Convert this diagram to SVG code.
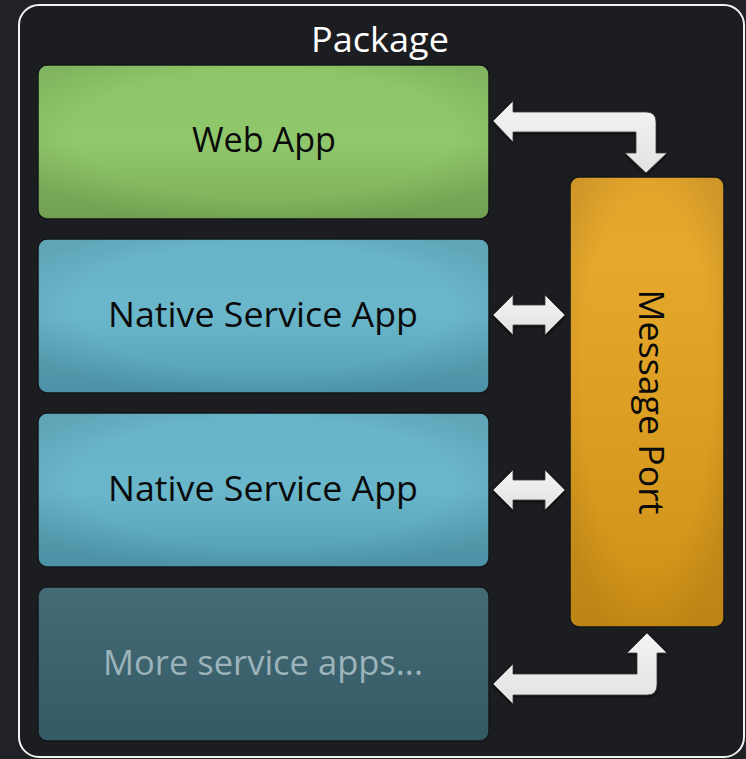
<svg xmlns="http://www.w3.org/2000/svg" width="746" height="759" viewBox="0 0 746 759">
<defs>
<linearGradient id="gGreen" x1="0" y1="0" x2="0" y2="1"><stop offset="0" stop-color="#8cc567"/><stop offset="0.5" stop-color="#90c76c"/><stop offset="1" stop-color="#7aad57"/></linearGradient>
<linearGradient id="gBlue" x1="0" y1="0" x2="0" y2="1"><stop offset="0" stop-color="#67b3c7"/><stop offset="0.5" stop-color="#6ab6ca"/><stop offset="1" stop-color="#519db2"/></linearGradient>
<linearGradient id="gTeal" x1="0" y1="0" x2="0" y2="1"><stop offset="0" stop-color="#456b77"/><stop offset="1" stop-color="#345a66"/></linearGradient>
<linearGradient id="gOrange" x1="0" y1="0" x2="0" y2="1"><stop offset="0" stop-color="#e2a42c"/><stop offset="0.2" stop-color="#e6a82c"/><stop offset="1" stop-color="#ce9016"/></linearGradient>
<radialGradient id="vig" cx="0.5" cy="0.45" r="0.6"><stop offset="0.7" stop-color="#000" stop-opacity="0"/><stop offset="1" stop-color="#000" stop-opacity="0.08"/></radialGradient>
<linearGradient id="gArrow" x1="0" y1="0" x2="0" y2="1"><stop offset="0" stop-color="#f4f4f4"/><stop offset="1" stop-color="#e2e2e2"/></linearGradient>
<filter id="sh" x="-10%" y="-20%" width="120%" height="140%"><feDropShadow dx="0" dy="1" stdDeviation="1.5" flood-color="#000" flood-opacity="0.9"/></filter>
</defs>
<style>
.box{stroke:#15161a;stroke-width:1.5}
.lbl{font-family:"Open Sans","Noto Sans","DejaVu Sans",sans-serif;font-size:34px;fill:#0a0a0a;text-anchor:middle}
.arrow{fill:url(#gArrow);stroke:#3a3a3a;stroke-width:0.8;filter:url(#sh)}
</style>
<rect width="746" height="759" fill="#212226"/>
<g id="package">
<rect x="19" y="5" width="725" height="752" rx="20" fill="#1c1d20" stroke="#f2f2f2" stroke-width="2"/>
<text x="380" y="52" class="lbl" style="fill:#ffffff" textLength="138" lengthAdjust="spacingAndGlyphs">Package</text>
</g>
<g id="webapp">
<rect class="box" x="38" y="65" width="451" height="154" rx="9" fill="url(#gGreen)"/>
<rect x="38" y="65" width="451" height="154" rx="9" fill="url(#vig)"/>
<text x="264" y="152" class="lbl" textLength="144" lengthAdjust="spacingAndGlyphs">Web App</text>
</g>
<g id="native1">
<rect class="box" x="38" y="239" width="451" height="154" rx="9" fill="url(#gBlue)"/>
<rect x="38" y="239" width="451" height="154" rx="9" fill="url(#vig)"/>
<text x="263" y="327" class="lbl" textLength="310" lengthAdjust="spacingAndGlyphs">Native Service App</text>
</g>
<g id="native2">
<rect class="box" x="38" y="413" width="451" height="154" rx="9" fill="url(#gBlue)"/>
<rect x="38" y="413" width="451" height="154" rx="9" fill="url(#vig)"/>
<text x="263" y="501" class="lbl" textLength="310" lengthAdjust="spacingAndGlyphs">Native Service App</text>
</g>
<g id="more">
<rect class="box" x="38" y="587" width="451" height="154" rx="9" fill="url(#gTeal)"/>
<text x="263" y="675" class="lbl" style="fill:#9cb3ba" textLength="320" lengthAdjust="spacingAndGlyphs">More service apps...</text>
</g>
<g id="messageport">
<rect class="box" x="570" y="177" width="154" height="450" rx="9" fill="url(#gOrange)"/>
<rect x="570" y="177" width="154" height="450" rx="9" fill="url(#vig)"/>
<text x="402" y="-639" class="lbl" transform="rotate(90)" textLength="225" lengthAdjust="spacingAndGlyphs">Message Port</text>
</g>
<g id="connectors">
<path class="arrow" d="M493,121 L513,101 L513,112 L646,112 Q656,112 656,122 L656,153 L667,153 L646,173 L625,153 L636,153 L636,132 L513,132 L513,142 Z"/>
<path class="arrow" d="M493,315 L513,295 L513,305 L545,305 L545,295 L565,315 L545,335 L545,325 L513,325 L513,335 Z"/>
<path class="arrow" d="M493,490 L513,470 L513,480 L545,480 L545,470 L565,490 L545,510 L545,500 L513,500 L513,510 Z"/>
<path class="arrow" d="M493,684 L513,664 L513,674 L637,674 L637,653 L627,653 L647,633 L667,653 L657,653 L657,685 Q657,695 647,695 L513,695 L513,704 Z"/>
</g>
</svg>
